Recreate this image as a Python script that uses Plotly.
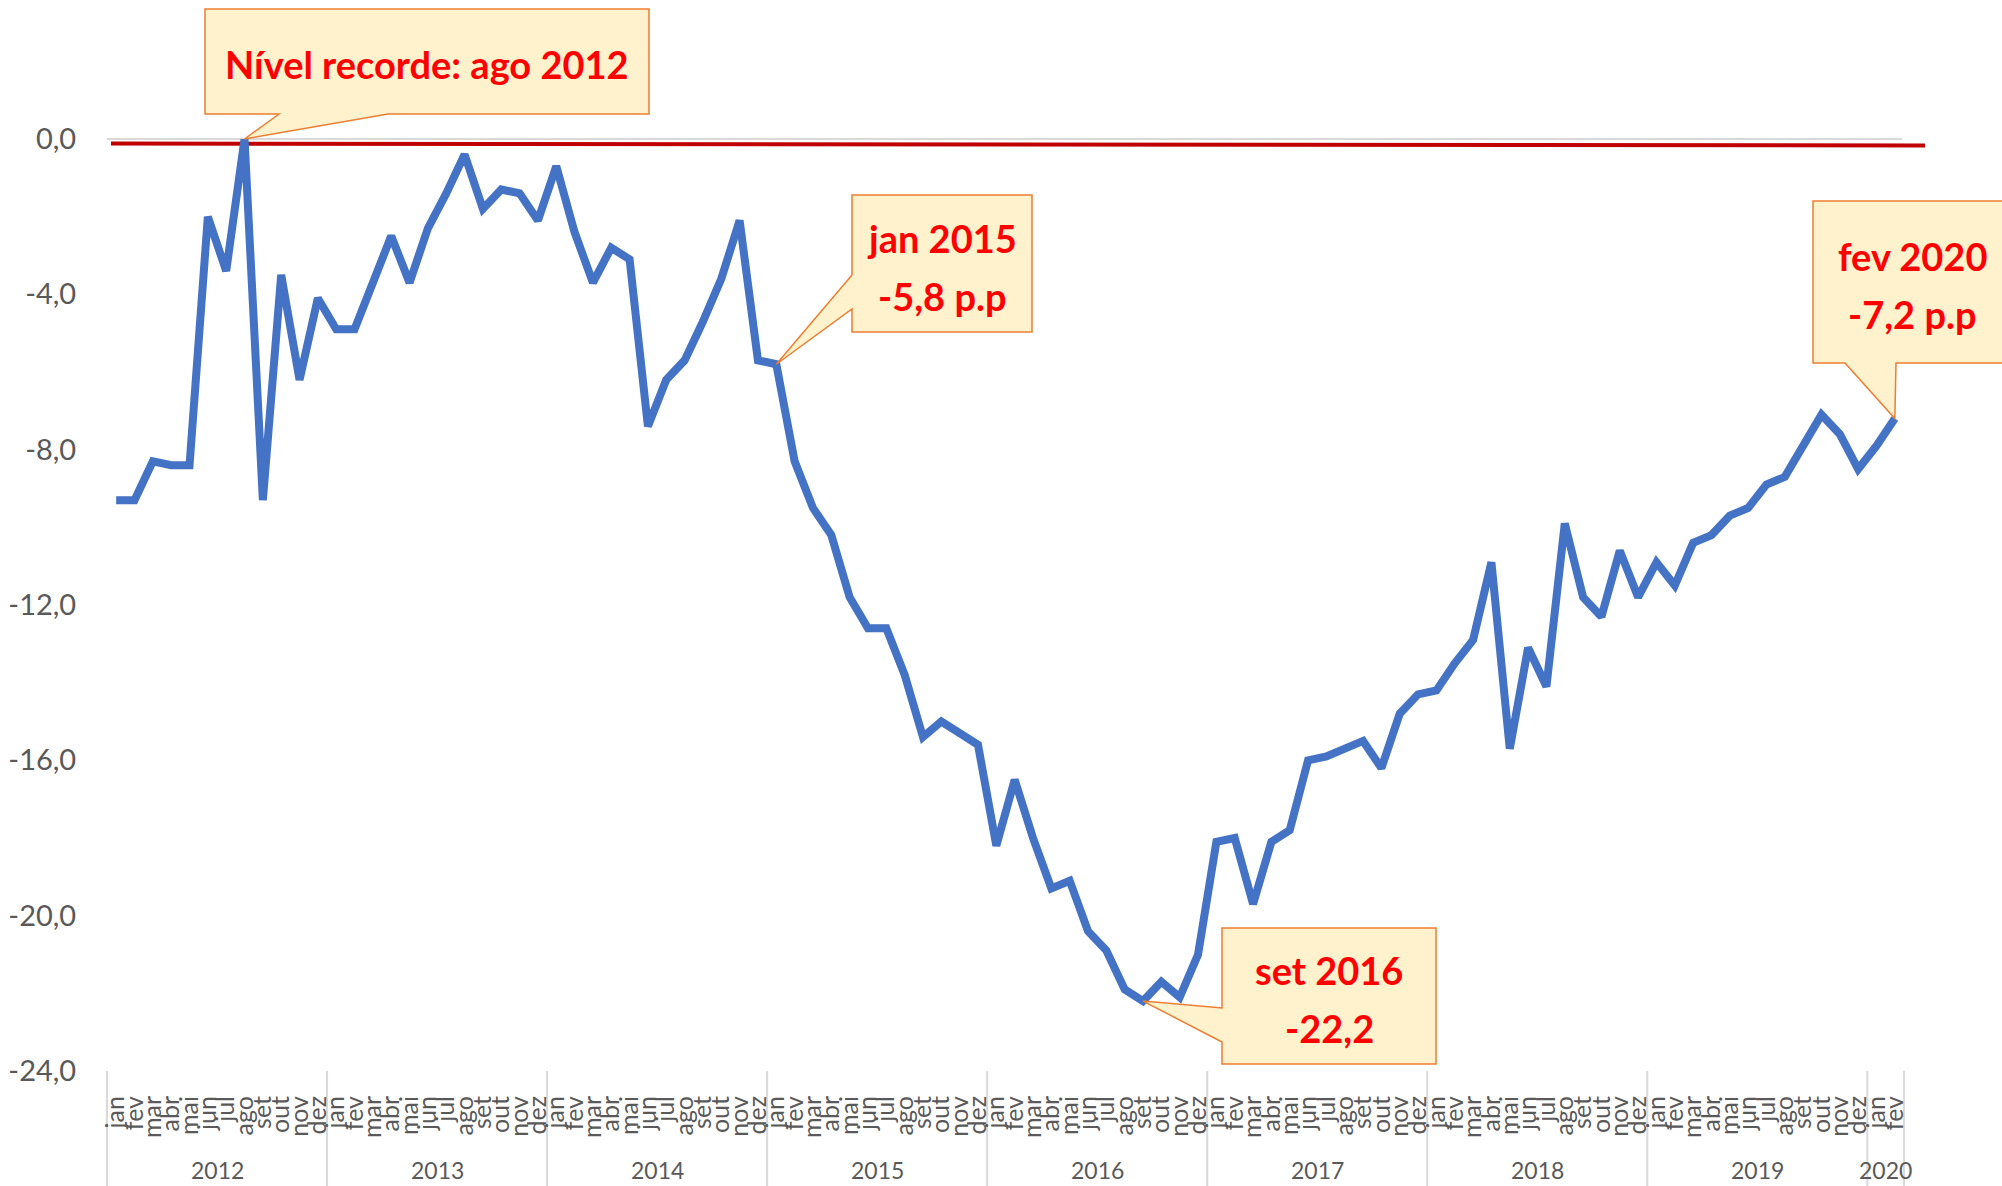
import plotly.graph_objects as go

# ---------------- data ----------------
years = ["2012", "2013", "2014", "2015", "2016", "2017", "2018", "2019", "2020"]
months = ["jan", "fev", "mar", "abr", "mai", "jun", "jul", "ago", "set", "out", "nov", "dez"]

v2012 = [-9.3, -9.3, -8.3, -8.4, -8.4, -2.0, -3.4, 0.0, -9.3, -3.5, -6.2, -4.1]
v2013 = [-4.9, -4.9, -3.7, -2.5, -3.7, -2.3, -1.4, -0.4, -1.8, -1.3, -1.4, -2.1]
v2014 = [-0.7, -2.4, -3.7, -2.8, -3.1, -7.4, -6.2, -5.7, -4.7, -3.6, -2.1, -5.7]
v2015 = [-5.8, -8.3, -9.5, -10.2, -11.8, -12.6, -12.6, -13.8, -15.4, -15.0, -15.3, -15.6]
v2016 = [-18.2, -16.5, -18.0, -19.3, -19.1, -20.4, -20.9, -21.9, -22.2, -21.7, -22.1, -21.0]
v2017 = [-18.1, -18.0, -19.7, -18.1, -17.8, -16.0, -15.9, -15.7, -15.5, -16.2, -14.8, -14.3]
v2018 = [-14.2, -13.5, -12.9, -10.9, -15.7, -13.1, -14.1, -9.9, -11.8, -12.3, -10.6, -11.8]
v2019 = [-10.9, -11.5, -10.4, -10.2, -9.7, -9.5, -8.9, -8.7, -7.9, -7.1, -7.6, -8.5]
v2020 = [-7.9, -7.2]

values = v2012 + v2013 + v2014 + v2015 + v2016 + v2017 + v2018 + v2019 + v2020
categories = [f"{m} {y}" for y in years for m in months][:len(values)]
month_labels = [c.split()[0] for c in categories]

y_ticks = [0, -4, -8, -12, -16, -20, -24]
y_ticktext = [f"{t:.1f}".replace(".", ",") for t in y_ticks]


def fmt(v):
    return f"{v:.1f}".replace(".", ",")


# ---------------- geometry / style ----------------
W, H = 2002, 1186
ML, MR, MT, MB = 107, 98, 139, 115
PW, PH = W - ML - MR, H - MT - MB
Y_MIN, Y_MAX = -24, 0
N = len(values)

FONT = "Lato, 'Open Sans', sans-serif"
GRAY = "#595959"
LINEGRAY = "#D9D9D9"


def fx(px):
    return (px - ML) / PW


def fy(py):
    return (H - MB - py) / PH


def cat_x(i):
    return (i + 0.5) / N


def val_y(v):
    return (v - Y_MIN) / (Y_MAX - Y_MIN)


fig = go.Figure()
fig.add_trace(go.Scatter(
    x=categories, y=values, mode="lines",
    line=dict(color="#4472C4", width=8),
    cliponaxis=False, hoverinfo="skip", showlegend=False,
))

shapes = []
# gridline at 0
shapes.append(dict(type="line", xref="paper", yref="paper", x0=0, x1=fx(1902),
                   y0=val_y(0), y1=val_y(0), line=dict(color=LINEGRAY, width=2), layer="below"))
# red reference line (record level)
shapes.append(dict(type="line", xref="paper", yref="paper", x0=fx(111), x1=fx(1925),
                   y0=fy(143.5), y1=fy(145.5), line=dict(color="#C00000", width=4), layer="below"))
# year separators
bounds = list(range(0, N, 12)) + [N]
for k in bounds:
    shapes.append(dict(type="line", xref="paper", yref="paper", x0=k / N, x1=k / N,
                       y0=0, y1=fy(H + 2), line=dict(color=LINEGRAY, width=2), layer="below"))

# callouts: (category, text, box px (l,t,r,b), pointer base px, side)
callouts = [
    ("ago 2012", "Nível recorde: ago 2012", (205, 9, 649, 114), (279, 388), "bottom"),
    ("jan 2015", None, (852, 195, 1032, 332), (275, 309), "left"),
    ("set 2016", None, (1222, 928, 1436, 1064), (1008, 1042), "left"),
    ("fev 2020", None, (1813, 201, 2014, 363), (1845, 1896), "bottom"),
]
CALLOUT_SIZE = 38
LINE_GAP = 58

annotations = []
for cat, txt, box, base, side in callouts:
    i = categories.index(cat)
    v = values[i]
    if txt is None:
        suffix = " p.p" if cat != "set 2016" else ""
        lines = [cat, f"{fmt(v)}{suffix}"]
    else:
        lines = [txt]
    l, t, r, b = box
    tip = (cat_x(i), val_y(v))
    if side == "bottom":
        pts = [(fx(l), fy(t)), (fx(r), fy(t)), (fx(r), fy(b)), (fx(base[1]), fy(b)), tip,
               (fx(base[0]), fy(b)), (fx(l), fy(b))]
    else:
        pts = [(fx(l), fy(t)), (fx(r), fy(t)), (fx(r), fy(b)), (fx(l), fy(b)), (fx(l), fy(base[1])), tip,
               (fx(l), fy(base[0]))]
    path = "M " + " L ".join(f"{x:.5f},{y:.5f}" for x, y in pts) + " Z"
    shapes.append(dict(type="path", xref="paper", yref="paper", path=path,
                       fillcolor="#FFF2CC", line=dict(color="#ED7D31", width=1.5), layer="above"))
    cx = (l + min(r, 2012)) / 2
    cy = (t + b) / 2
    n = len(lines)
    for k, line in enumerate(lines):
        ly = cy + (k - (n - 1) / 2) * LINE_GAP + 3
        annotations.append(dict(xref="paper", yref="paper", x=fx(cx), y=fy(ly), text=line,
                                showarrow=False, xanchor="center", yanchor="middle",
                                font=dict(family=FONT, size=CALLOUT_SIZE, color="#FF0000", weight="bold")))

# year labels
for y in years:
    idx = [j for j, c in enumerate(categories) if c.endswith(y)]
    center = (idx[0] + idx[-1]) / 2
    annotations.append(dict(xref="paper", yref="paper", x=cat_x(center), y=fy(1170), text=y,
                            showarrow=False, xanchor="center", yanchor="middle",
                            font=dict(family=FONT, size=23, color=GRAY)))

fig.update_layout(
    width=W, height=H, autosize=False,
    margin=dict(l=ML, r=MR, t=MT, b=MB, pad=0),
    paper_bgcolor="white", plot_bgcolor="white",
    shapes=shapes, annotations=annotations,
    showlegend=False,
)
fig.update_xaxes(
    type="category", range=[-0.5, N - 0.5], tickmode="array",
    tickvals=categories, ticktext=month_labels, tickangle=-90,
    tickfont=dict(family=FONT, size=25, color=GRAY),
    ticks="outside", ticklen=14, tickcolor="rgba(0,0,0,0)",
    showgrid=False, zeroline=False, showline=False, automargin=False,
)
fig.update_yaxes(
    range=[Y_MIN, Y_MAX], tickmode="array", tickvals=y_ticks, ticktext=y_ticktext,
    tickfont=dict(family=FONT, size=29, color=GRAY),
    ticks="outside", ticklen=24, tickcolor="rgba(0,0,0,0)",
    showgrid=False, zeroline=False, showline=False, automargin=False,
)

fig.write_html("out.html", config={"displayModeBar": False},
               post_script="document.body.style.margin='0';document.body.style.overflow='hidden';")
